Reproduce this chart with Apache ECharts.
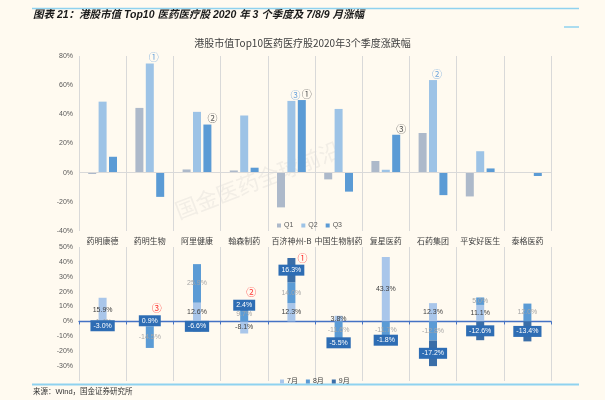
<!DOCTYPE html>
<html>
<head>
<meta charset="utf-8">
<script src="https://cdn.jsdelivr.net/npm/echarts@6/dist/echarts.min.js"></script>
<style>
html, body { margin: 0; padding: 0; background: #fffaf0; }
#main { width: 605px; height: 400px; }
</style>
</head>
<body>
<div id="main"></div>
<script>
// 类目
const cats = ['药明康德', '药明生物', '阿里健康', '翰森制药', '百济神州-B', '中国生物制药', '复星医药', '石药集团', '平安好医生', '泰格医药'];

// 季度涨跌幅 (%)
const q1 = [-0.9, 44.4, 2.2, 1.5, -23.8, -4.6, 8.0, 27.2, -16.3, null];
const q2 = [48.7, 74.8, 41.7, 39.2, 49.2, 43.7, 2.0, 63.5, 14.7, null];
const q3 = [10.9, -16.6, 33.0, 3.4, 49.8, -13.0, 26.0, -15.4, 2.9, -2.3];

// 月度涨跌幅 (%)
const m7 = [15.9, -3.3, 12.6, -8.1, 12.3, 3.8, 43.3, 12.3, 11.1, null];
const m8 = [-1.4, -14.5, 25.9, 9.7, 14.0, -11.6, -11.7, -12.8, 5.0, 12.0];
const m9 = [-3.0, 0.9, -6.6, 2.4, 16.3, -5.5, -1.8, -17.2, -12.6, -13.4];

// 排名标注
const q2Notes = ['', '①', '', '', '③', '', '', '②', '', ''];
const q3Notes = ['', '', '②', '', '①', '', '③', '', '', ''];
const m9Notes = ['', '③', '', '②', '①', '', '', '', '', ''];

const FONT = 'Liberation Sans, Noto Sans CJK SC, sans-serif';
const chart = echarts.init(document.getElementById('main'));

const pct = p => (p.value == null ? '' : p.value.toFixed(1) + '%');

// 红色标注点：放在当月堆叠柱顶部
const noteOffsets = { '①': [11, 0], '②': [7, -11], '③': [7, -12] };
const noteData = [];
m9Notes.forEach((t, i) => {
    if (!t) return;
    const top = [m7[i], m8[i], m9[i]].filter(v => v > 0).reduce((a, b) => a + b, 0);
    noteData.push({
        value: [i, top],
        label: { formatter: t, offset: noteOffsets[t] }
    });
});

const option = {
    animation: false,
    backgroundColor: '#fffaf0',
    textStyle: { fontFamily: FONT },
    title: {
        text: '港股市值Top10医药医疗股2020年3个季度涨跌幅',
        left: 'center',
        top: 33,
        textStyle: { fontSize: 10, fontWeight: 'normal', color: '#404040', fontFamily: 'Noto Sans CJK SC' }
    },
    graphic: [
        { type: 'line', shape: { x1: 32, y1: 8.5, x2: 579, y2: 8.5 }, style: { stroke: '#8fd2ef', lineWidth: 1.5 } },
        { type: 'line', shape: { x1: 564, y1: 27, x2: 579, y2: 27 }, style: { stroke: '#8fd2ef', lineWidth: 1.5 } },
        { type: 'line', shape: { x1: 32, y1: 384.5, x2: 579, y2: 384.5 }, style: { stroke: '#8fd2ef', lineWidth: 2 } },
        {
            type: 'text', left: 33, top: 10,
            style: { text: '图表 21：港股市值 Top10 医药医疗股 2020 年 3 个季度及 7/8/9 月涨幅', font: 'italic bold 10.5px Liberation Sans, Noto Sans CJK SC', fill: '#1a1a1a' }
        },
        {
            type: 'text', left: 33, top: 388,
            style: { text: '来源：Wind，国金证券研究所', font: '7.5px Liberation Sans, Noto Sans CJK SC', fill: '#333' }
        },
        {
            type: 'text', x: 258, y: 180, rotation: 0.37, z: -1,
            style: { text: '国金医药全球前沿', font: '22px Noto Sans CJK SC', fill: 'rgba(190,190,190,0.2)', textAlign: 'center', textVerticalAlign: 'middle' }
        }
    ],
    legend: [
        {
            data: ['Q1', 'Q2', 'Q3'], left: 272, top: 217,
            itemWidth: 4, itemHeight: 4, itemGap: 8, icon: 'rect',
            textStyle: { fontSize: 7, color: '#595959', padding: [0, 0, 0, -2] }
        },
        {
            data: ['7月', '8月', '9月'], left: 275, top: 373,
            itemWidth: 4, itemHeight: 4, itemGap: 8, icon: 'rect',
            textStyle: { fontSize: 7, color: '#404040', padding: [0, 0, 0, -2] }
        }
    ],
    grid: [
        { left: 79, right: 54, top: 56, bottom: 169 },
        { left: 79, right: 54, top: 247, bottom: 19 }
    ],
    xAxis: [
        {
            type: 'category', gridIndex: 0, data: cats,
            axisLine: { show: false }, axisTick: { show: false },
            axisLabel: { interval: 0, fontSize: 8, color: '#404040', margin: 6, fontFamily: 'Noto Sans CJK SC' },
            splitLine: { show: true, interval: 0, lineStyle: { color: '#d9d9d9', width: 1 } }
        },
        {
            type: 'category', gridIndex: 1, data: cats,
            axisLine: { onZero: true, lineStyle: { color: '#4472c4', width: 1.3 } },
            axisTick: { show: true, interval: 0, length: 3, lineStyle: { color: '#4472c4' } },
            axisLabel: { show: false },
            splitLine: { show: true, interval: 0, lineStyle: { color: '#d9d9d9', width: 1 } }
        }
    ],
    yAxis: [
        {
            type: 'value', gridIndex: 0, min: -40, max: 80, interval: 20,
            axisLine: { show: false }, axisTick: { show: false }, splitLine: { show: false },
            axisLabel: { formatter: '{value}%', fontSize: 7, color: '#595959', margin: 6 }
        },
        {
            type: 'value', gridIndex: 1, min: -40, max: 50, interval: 10,
            axisLine: { show: false }, axisTick: { show: false }, splitLine: { show: false },
            axisLabel: { formatter: v => (v === -40 ? '' : v + '%'), fontSize: 7, color: '#595959', margin: 6 }
        }
    ],
    series: [
        {
            name: 'Q1', type: 'bar', xAxisIndex: 0, yAxisIndex: 0, data: q1,
            barWidth: 8, barGap: '30%', itemStyle: { color: '#adb9ca' },
            markLine: {
                silent: true, symbol: 'none', label: { show: false },
                lineStyle: { color: '#d9d9d9', width: 1, type: 'solid' },
                data: [{ yAxis: 0 }]
            }
        },
        {
            name: 'Q2', type: 'bar', xAxisIndex: 0, yAxisIndex: 0, data: q2,
            barWidth: 8, barGap: '30%', itemStyle: { color: '#9dc3e6' },
            label: {
                show: true, position: 'top', distance: 1, offset: [4, 0],
                formatter: p => q2Notes[p.dataIndex], fontSize: 10, color: '#6fa6dc', fontFamily: 'Noto Sans CJK SC'
            }
        },
        {
            name: 'Q3', type: 'bar', xAxisIndex: 0, yAxisIndex: 0, data: q3,
            barWidth: 8, barGap: '30%', itemStyle: { color: '#5b9bd5' },
            label: {
                show: true, position: 'top', distance: 1, offset: [5, 0],
                formatter: p => q3Notes[p.dataIndex], fontSize: 10, color: '#595959', fontFamily: 'Noto Sans CJK SC'
            }
        },
        {
            name: '7月', type: 'bar', xAxisIndex: 1, yAxisIndex: 1, stack: 'm', data: m7,
            barWidth: 8, itemStyle: { color: '#a9c6ea' },
            label: { show: true, position: 'inside', formatter: pct, fontSize: 7, color: '#404040' }
        },
        {
            name: '8月', type: 'bar', xAxisIndex: 1, yAxisIndex: 1, stack: 'm', data: m8,
            barWidth: 8, itemStyle: { color: '#5b9bd5' },
            label: { show: true, position: 'inside', formatter: pct, fontSize: 7, color: '#a6a6a6' }
        },
        {
            name: '9月', type: 'bar', xAxisIndex: 1, yAxisIndex: 1, stack: 'm', data: m9,
            barWidth: 8, itemStyle: { color: '#3a6ea8' },
            label: {
                show: true, position: 'inside', formatter: pct, fontSize: 7, color: '#fff',
                backgroundColor: '#2e6db4', padding: [2, 3]
            },
            z: 3
        },
        {
            name: 'note', type: 'scatter', xAxisIndex: 1, yAxisIndex: 1, data: noteData,
            symbolSize: 0, silent: true, z: 5,
            label: { show: true, position: 'inside', fontSize: 10, color: '#ff0000', fontFamily: 'Noto Sans CJK SC' }
        }
    ]
};

chart.setOption(option);
</script>
</body>
</html>
